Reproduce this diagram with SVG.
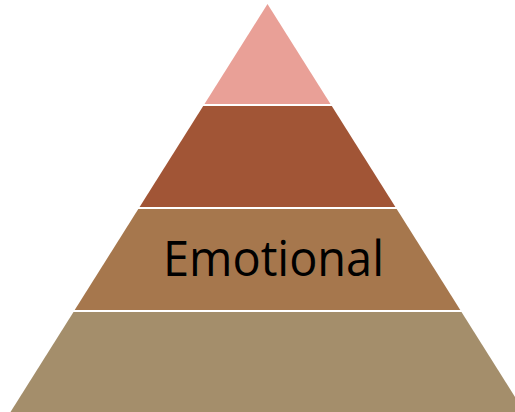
<svg xmlns="http://www.w3.org/2000/svg" width="515" height="412" viewBox="0 0 515 412">
<style>
.l1{fill:#E9A097}
.l2{fill:#A15536}
.l3{fill:#A6774D}
.l4{fill:#A48E6B}
.lbl{font-family:"Open Sans","Liberation Sans",sans-serif;font-size:49px;fill:#000}
</style>
<rect width="515" height="412" fill="#fff"/>
<g id="layer1"><polygon class="l1" points="267.5,4 330.5,104 204.5,104"/></g>
<g id="layer2"><polygon class="l2" points="203.2,106 331.8,106 395.4,207 139.6,207"/></g>
<g id="layer3"><polygon class="l3" points="138.3,209 396.7,209 460.3,310 74.7,310"/>
<text class="lbl" x="163" y="276" textLength="221" lengthAdjust="spacingAndGlyphs">Emotional</text></g>
<g id="layer4"><polygon class="l4" points="73.5,312 461.5,312 524.5,412 10.5,412"/></g>
<g id="connectors"></g>
</svg>
